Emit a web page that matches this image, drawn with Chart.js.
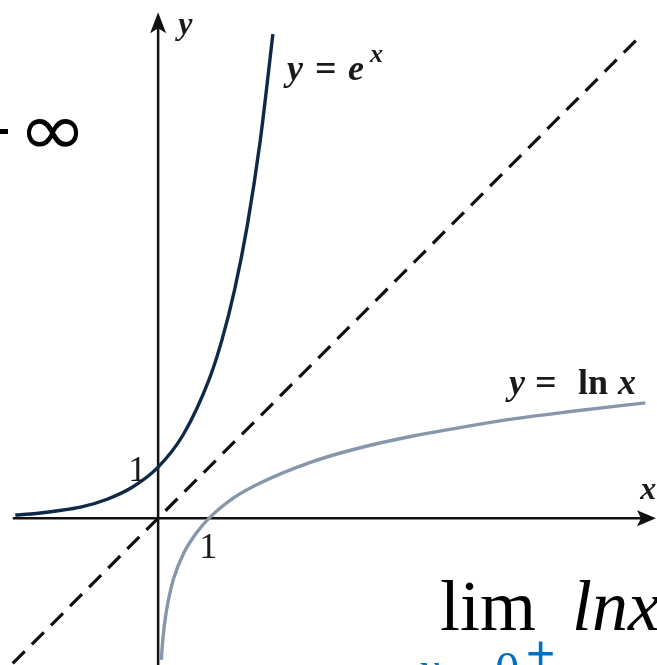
<!DOCTYPE html>
<html>
<head>
<meta charset="utf-8">
<script src="https://cdn.jsdelivr.net/npm/chart.js@4/dist/chart.umd.min.js"></script>
<style>
  html, body { margin: 0; padding: 0; background: #fff; }
  #wrap { position: relative; width: 657px; height: 665px; overflow: hidden; }
  #graph { position: absolute; left: 0; top: 0; }
  .slide { position: absolute; white-space: nowrap; line-height: 1; }
</style>
</head>
<body>
<div id="wrap">
  <canvas id="graph" width="657" height="665"></canvas>
  <div class="slide" style="left:-22px; top:129px; width:30px; height:5px; background:#000;"></div>
  <div class="slide" style="left:18px; top:92px; font-family:'DejaVu Sans'; font-size:74px; color:#000; transform:scaleX(1.12); transform-origin:left top;">∞</div>
  <div class="slide" style="left:440px; top:570px; font-family:'Liberation Serif'; font-size:72px; color:#000;">lim<i style="margin-left:36px;">lnx</i></div>
  <div class="slide" style="left:418px; top:645px; font-family:'Liberation Serif'; font-size:48px; color:#0070c0;"><i>x</i>→<span style="margin-left:8px;">0</span></div>
  <div class="slide" style="left:526px; top:628px; font-family:'Liberation Sans'; font-size:50px; color:#0070c0;">+</div>
</div>
<script>
// points: y = e^x
const expX = [-2.8, -2.5, -2, -1.5, -1, -0.5, 0, 0.5, 1, 1.25, 1.5, 1.75, 2, 2.25];
const expY = [0.06, 0.08, 0.14, 0.22, 0.37, 0.61, 1, 1.65, 2.72, 3.49, 4.48, 5.75, 7.39, 9.49];

// y = ln x
const lnX = [0.062, 0.075, 0.1, 0.15, 0.2, 0.3, 0.5, 0.75, 1, 1.5, 2, 3, 4, 5, 6, 7, 8, 9.55];
const lnY = [-2.78, -2.59, -2.3, -1.9, -1.61, -1.2, -0.69, -0.29, 0, 0.41, 0.69, 1.1, 1.39, 1.61, 1.79, 1.95, 2.08, 2.26];

// dashed y = x
const diagX = [-2.85, 9.5];
const diagY = [-2.85, 9.5];

// tick labels on the axes
const tickLabels = ['1', '1'];
const axisNames = ['x', 'y'];
const curveNames = ['y = e', 'y = ln x'];

const toPts = (xs, ys) => xs.map((x, i) => ({ x: x, y: ys[i] }));

// axes, arrows and labels drawn from the scales
const axesPlugin = {
  id: 'axesPlugin',
  beforeDatasetsDraw(chart) {
    const { ctx, scales: { x, y } } = chart;
    const ox = x.getPixelForValue(0);
    const oy = y.getPixelForValue(0);
    ctx.save();
    ctx.strokeStyle = '#111';
    ctx.fillStyle = '#111';
    ctx.lineWidth = 2.5;
    // x axis
    const xl = x.getPixelForValue(-2.85);
    const xr = x.getPixelForValue(x.max) - 1;
    ctx.beginPath();
    ctx.moveTo(xl, oy);
    ctx.lineTo(xr - 14, oy);
    ctx.stroke();
    ctx.beginPath();
    ctx.moveTo(xr, oy);
    ctx.lineTo(xr - 19, oy - 8);
    ctx.lineTo(xr - 15, oy);
    ctx.lineTo(xr - 19, oy + 8);
    ctx.closePath();
    ctx.fill();
    // y axis
    const yt = y.getPixelForValue(9.92);
    const yb = y.getPixelForValue(y.min);
    ctx.beginPath();
    ctx.moveTo(ox, yb);
    ctx.lineTo(ox, yt + 14);
    ctx.stroke();
    ctx.beginPath();
    ctx.moveTo(ox, yt);
    ctx.lineTo(ox - 8, yt + 21);
    ctx.lineTo(ox, yt + 16);
    ctx.lineTo(ox + 8, yt + 21);
    ctx.closePath();
    ctx.fill();
    ctx.restore();
  },
  afterDatasetsDraw(chart) {
    const { ctx, scales: { x, y } } = chart;
    const ox = x.getPixelForValue(0);
    const oy = y.getPixelForValue(0);
    ctx.save();
    ctx.fillStyle = '#1a1a1a';
    ctx.textBaseline = 'alphabetic';
    // "1" labels
    ctx.font = '36px "Liberation Serif"';
    ctx.textAlign = 'right';
    ctx.fillText(tickLabels[1], ox - 12, y.getPixelForValue(1) + 14);
    ctx.textAlign = 'center';
    ctx.fillText(tickLabels[0], x.getPixelForValue(1) - 1, oy + 40);
    // axis names
    ctx.font = 'italic bold 32px "Liberation Serif"';
    ctx.textAlign = 'left';
    ctx.fillText(axisNames[1], ox + 20, 34);
    ctx.fillText(axisNames[0], x.getPixelForValue(9.45), oy - 19);
    // curve labels
    ctx.font = 'italic bold 36px "Liberation Serif"';
    ctx.fillText('y', 287, 80);
    ctx.font = 'bold 38px "Liberation Serif"';
    ctx.fillText('=', 315, 81);
    ctx.font = 'italic bold 36px "Liberation Serif"';
    ctx.fillText('e', 348, 80);
    ctx.font = 'italic bold 26px "Liberation Serif"';
    ctx.fillText('x', 370, 62);

    ctx.font = 'italic bold 36px "Liberation Serif"';
    ctx.fillText('y', 509, 394);
    ctx.font = 'bold 38px "Liberation Serif"';
    ctx.fillText('=', 535, 395);
    ctx.font = 'bold 36px "Liberation Serif"';
    ctx.fillText('ln', 578, 394);
    ctx.font = 'italic bold 36px "Liberation Serif"';
    ctx.fillText('x', 618, 394);
    ctx.restore();
  }
};

new Chart(document.getElementById('graph'), {
  type: 'scatter',
  data: {
    datasets: [
      {
        label: 'y = x',
        data: toPts(diagX, diagY),
        showLine: true,
        borderColor: '#111',
        borderWidth: 3.2,
        borderDash: [17, 10],
        pointRadius: 0
      },
      {
        label: curveNames[0],
        data: toPts(expX, expY),
        showLine: true,
        borderColor: '#0f2a49',
        borderWidth: 3.4,
        cubicInterpolationMode: 'monotone',
        pointRadius: 0
      },
      {
        label: curveNames[1],
        data: toPts(lnX, lnY),
        showLine: true,
        borderColor: '#8797ab',
        borderWidth: 3.4,
        cubicInterpolationMode: 'monotone',
        pointRadius: 0
      }
    ]
  },
  options: {
    responsive: false,
    animation: false,
    layout: { padding: 0 },
    plugins: { legend: { display: false }, tooltip: { enabled: false } },
    scales: {
      x: { type: 'linear', min: -3.1, max: 9.78, display: false },
      y: { type: 'linear', min: -2.88, max: 10.16, display: false }
    }
  },
  plugins: [axesPlugin]
});
</script>
</body>
</html>
